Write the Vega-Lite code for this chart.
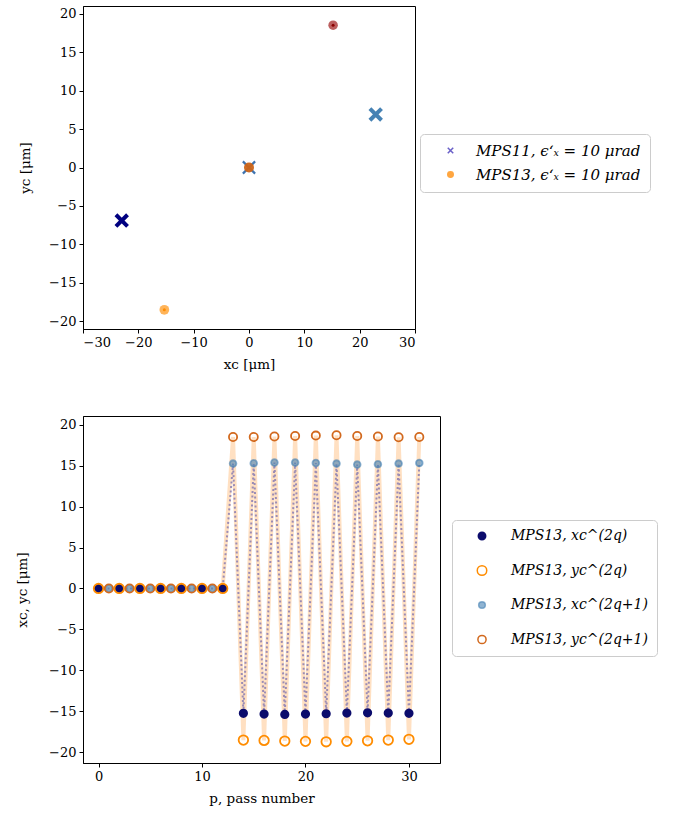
{
  "$schema": "https://vega.github.io/schema/vega-lite/v6.json",
  "padding": {"left": 15, "top": 5, "right": 5, "bottom": 5},
  "spacing": 44,
  "resolve": {
    "scale": {"fill": "independent", "stroke": "independent", "shape": "independent", "size": "independent", "color": "independent"},
    "legend": {"fill": "independent", "stroke": "independent", "shape": "independent", "size": "independent", "color": "independent"}
  },
  "datasets": {
    "top": [
      {"mps": "MPS11", "step": "start", "xc": 0, "yc": 0},
      {"mps": "MPS11", "step": "even", "xc": -23.0, "yc": -6.9},
      {"mps": "MPS11", "step": "odd", "xc": 22.9, "yc": 6.9},
      {"mps": "MPS13", "step": "start", "xc": 0, "yc": 0},
      {"mps": "MPS13", "step": "even", "xc": -15.3, "yc": -18.5},
      {"mps": "MPS13", "step": "odd", "xc": 15.2, "yc": 18.5}
    ],
    "passes": [
      {"p": 0, "series": "x_even", "coord": "x", "value": 0},
      {"p": 0, "series": "y_even", "coord": "y", "value": 0},
      {"p": 1, "series": "x_odd", "coord": "x", "value": 0},
      {"p": 1, "series": "y_odd", "coord": "y", "value": 0},
      {"p": 2, "series": "x_even", "coord": "x", "value": 0},
      {"p": 2, "series": "y_even", "coord": "y", "value": 0},
      {"p": 3, "series": "x_odd", "coord": "x", "value": 0},
      {"p": 3, "series": "y_odd", "coord": "y", "value": 0},
      {"p": 4, "series": "x_even", "coord": "x", "value": 0},
      {"p": 4, "series": "y_even", "coord": "y", "value": 0},
      {"p": 5, "series": "x_odd", "coord": "x", "value": 0},
      {"p": 5, "series": "y_odd", "coord": "y", "value": 0},
      {"p": 6, "series": "x_even", "coord": "x", "value": 0},
      {"p": 6, "series": "y_even", "coord": "y", "value": 0},
      {"p": 7, "series": "x_odd", "coord": "x", "value": 0},
      {"p": 7, "series": "y_odd", "coord": "y", "value": 0},
      {"p": 8, "series": "x_even", "coord": "x", "value": 0},
      {"p": 8, "series": "y_even", "coord": "y", "value": 0},
      {"p": 9, "series": "x_odd", "coord": "x", "value": 0},
      {"p": 9, "series": "y_odd", "coord": "y", "value": 0},
      {"p": 10, "series": "x_even", "coord": "x", "value": 0},
      {"p": 10, "series": "y_even", "coord": "y", "value": 0},
      {"p": 11, "series": "x_odd", "coord": "x", "value": 0},
      {"p": 11, "series": "y_odd", "coord": "y", "value": 0},
      {"p": 12, "series": "x_even", "coord": "x", "value": 0},
      {"p": 12, "series": "y_even", "coord": "y", "value": 0},
      {"p": 13, "series": "x_odd", "coord": "x", "value": 15.24},
      {"p": 13, "series": "y_odd", "coord": "y", "value": 18.49},
      {"p": 14, "series": "x_even", "coord": "x", "value": -15.24},
      {"p": 14, "series": "y_even", "coord": "y", "value": -18.5},
      {"p": 15, "series": "x_odd", "coord": "x", "value": 15.28},
      {"p": 15, "series": "y_odd", "coord": "y", "value": 18.49},
      {"p": 16, "series": "x_even", "coord": "x", "value": -15.33},
      {"p": 16, "series": "y_even", "coord": "y", "value": -18.54},
      {"p": 17, "series": "x_odd", "coord": "x", "value": 15.37},
      {"p": 17, "series": "y_odd", "coord": "y", "value": 18.54},
      {"p": 18, "series": "x_even", "coord": "x", "value": -15.37},
      {"p": 18, "series": "y_even", "coord": "y", "value": -18.62},
      {"p": 19, "series": "x_odd", "coord": "x", "value": 15.37},
      {"p": 19, "series": "y_odd", "coord": "y", "value": 18.61},
      {"p": 20, "series": "x_even", "coord": "x", "value": -15.33},
      {"p": 20, "series": "y_even", "coord": "y", "value": -18.66},
      {"p": 21, "series": "x_odd", "coord": "x", "value": 15.32},
      {"p": 21, "series": "y_odd", "coord": "y", "value": 18.66},
      {"p": 22, "series": "x_even", "coord": "x", "value": -15.29},
      {"p": 22, "series": "y_even", "coord": "y", "value": -18.71},
      {"p": 23, "series": "x_odd", "coord": "x", "value": 15.24},
      {"p": 23, "series": "y_odd", "coord": "y", "value": 18.7},
      {"p": 24, "series": "x_even", "coord": "x", "value": -15.21},
      {"p": 24, "series": "y_even", "coord": "y", "value": -18.66},
      {"p": 25, "series": "x_odd", "coord": "x", "value": 15.12},
      {"p": 25, "series": "y_odd", "coord": "y", "value": 18.61},
      {"p": 26, "series": "x_even", "coord": "x", "value": -15.17},
      {"p": 26, "series": "y_even", "coord": "y", "value": -18.59},
      {"p": 27, "series": "x_odd", "coord": "x", "value": 15.16},
      {"p": 27, "series": "y_odd", "coord": "y", "value": 18.54},
      {"p": 28, "series": "x_even", "coord": "x", "value": -15.21},
      {"p": 28, "series": "y_even", "coord": "y", "value": -18.5},
      {"p": 29, "series": "x_odd", "coord": "x", "value": 15.24},
      {"p": 29, "series": "y_odd", "coord": "y", "value": 18.45},
      {"p": 30, "series": "x_even", "coord": "x", "value": -15.24},
      {"p": 30, "series": "y_even", "coord": "y", "value": -18.41},
      {"p": 31, "series": "x_odd", "coord": "x", "value": 15.32},
      {"p": 31, "series": "y_odd", "coord": "y", "value": 18.49}
    ]
  },
  "vconcat": [
    {
      "width": 332,
      "height": 323,
      "data": {"name": "top"},
      "encoding": {
        "x": {"field": "xc", "type": "quantitative", "scale": {"domain": [-30, 30], "nice": false, "zero": false},
              "axis": {"title": "xc [μm]", "values": [-30, -20, -10, 0, 10, 20, 30], "titlePadding": 8}},
        "y": {"field": "yc", "type": "quantitative", "scale": {"domain": [-21, 21], "nice": false, "zero": false},
              "axis": {"title": "yc [μm]", "values": [-20, -15, -10, -5, 0, 5, 10, 15, 20], "titlePadding": 16}}
      },
      "layer": [
        {"transform": [{"filter": "datum.mps == 'MPS11' && datum.step == 'even'"}],
         "mark": {"type": "point", "shape": "M-1,-1L1,1M1,-1L-1,1", "filled": false, "color": "#000080", "strokeWidth": 4, "size": 135, "opacity": 1}},
        {"transform": [{"filter": "datum.mps == 'MPS11' && datum.step == 'odd'"}],
         "mark": {"type": "point", "shape": "M-1,-1L1,1M1,-1L-1,1", "filled": false, "color": "#4682b4", "strokeWidth": 4, "size": 135, "opacity": 1}},
        {"transform": [{"filter": "datum.mps == 'MPS11' && datum.step == 'start'"}],
         "mark": {"type": "point", "shape": "M-1,-1L1,1M1,-1L-1,1", "filled": false, "color": "#3f74b0", "strokeWidth": 2.2, "size": 150, "opacity": 1}},
        {"transform": [{"filter": "datum.mps == 'MPS13' && datum.step == 'start'"}],
         "mark": {"type": "point", "shape": "circle", "filled": true, "color": "#cc6418", "size": 100, "opacity": 0.95}},
        {"transform": [{"filter": "datum.mps == 'MPS13' && datum.step == 'even'"}],
         "mark": {"type": "point", "shape": "circle", "filled": true, "color": "#ff8c00", "size": 95, "opacity": 0.65}},
        {"transform": [{"filter": "datum.mps == 'MPS13' && datum.step == 'odd'"}],
         "mark": {"type": "point", "shape": "circle", "filled": true, "color": "#a52a2a", "size": 90, "opacity": 0.75}},
        {"transform": [{"filter": "datum.mps == 'MPS13' && datum.step == 'even'"}],
         "mark": {"type": "point", "shape": "circle", "filled": true, "color": "#ff8c00", "size": 9, "opacity": 1}},
        {"transform": [{"filter": "datum.mps == 'MPS13' && datum.step == 'odd'"}],
         "mark": {"type": "point", "shape": "circle", "filled": true, "color": "#8b0000", "size": 9, "opacity": 1}},
        {"mark": {"type": "point", "filled": true, "opacity": 0, "strokeWidth": 1.3},
         "encoding": {
           "fill": {"field": "mps", "type": "nominal",
                    "scale": {"domain": ["MPS11", "MPS13"], "range": ["transparent", "#ffa640"]},
                    "legend": {"title": null, "orient": "none", "legendX": 337, "legendY": 128, "symbolOpacity": 1, "symbolSize": 30, "symbolOffset": 14, "labelOffset": 18, "rowPadding": 8, "labelFontSize": 15,
                               "labelExpr": "datum.label == 'MPS11' ? 'MPS11, ϵ‘ₓ = 10 μrad' : 'MPS13, ϵ‘ₓ = 10 μrad'"}},
           "stroke": {"field": "mps", "type": "nominal",
                    "scale": {"domain": ["MPS11", "MPS13"], "range": ["#6a60c8", "#ffa640"]},
                    "legend": {"title": null, "orient": "none", "legendX": 337, "legendY": 128, "symbolOpacity": 1, "symbolSize": 30, "symbolOffset": 14, "labelOffset": 18, "rowPadding": 8, "labelFontSize": 15,
                               "labelExpr": "datum.label == 'MPS11' ? 'MPS11, ϵ‘ₓ = 10 μrad' : 'MPS13, ϵ‘ₓ = 10 μrad'"}},
           "shape": {"field": "mps", "type": "nominal",
                    "scale": {"domain": ["MPS11", "MPS13"], "range": ["M-1,-1L1,1M1,-1L-1,1", "circle"]},
                    "legend": {"title": null, "orient": "none", "legendX": 337, "legendY": 128, "symbolOpacity": 1, "symbolSize": 30, "symbolOffset": 14, "labelOffset": 18, "rowPadding": 8, "labelFontSize": 15,
                               "labelExpr": "datum.label == 'MPS11' ? 'MPS11, ϵ‘ₓ = 10 μrad' : 'MPS13, ϵ‘ₓ = 10 μrad'"}}
         }}
      ]
    },
    {
      "width": 357,
      "height": 347,
      "data": {"name": "passes"},
      "encoding": {
        "x": {"field": "p", "type": "quantitative", "scale": {"domain": [-1.5, 33], "nice": false, "zero": false},
              "axis": {"title": "p, pass number", "values": [0, 10, 20, 30], "titlePadding": 8}},
        "y": {"field": "value", "type": "quantitative", "scale": {"domain": [-21.3, 21.05], "nice": false, "zero": false},
              "axis": {"title": "xc, yc [μm]", "values": [-20, -15, -10, -5, 0, 5, 10, 15, 20], "titlePadding": 19}}
      },
      "layer": [
        {"transform": [{"filter": "datum.coord == 'y'"}],
         "mark": {"type": "line", "color": "#ffd6ae", "strokeWidth": 4, "opacity": 0.75}},
        {"transform": [{"filter": "datum.coord == 'x'"}],
         "mark": {"type": "line", "color": "#7a70b0", "strokeWidth": 2, "strokeDash": [2, 2.5], "opacity": 0.75}},
        {"mark": {"type": "point", "filled": true, "strokeWidth": 1.8, "opacity": 1},
         "encoding": {
           "fill": {"field": "series", "type": "nominal",
                    "scale": {"domain": ["x_even", "y_even", "x_odd", "y_odd"], "range": ["#0c0c6c", "transparent", "rgba(70,130,180,0.6)", "transparent"]},
                    "legend": {"title": null, "orient": "none", "legendX": 369, "legendY": 104, "symbolOpacity": 1, "symbolOffset": 14, "labelOffset": 22, "rowPadding": 19.5,
                               "labelExpr": "datum.label == 'x_even' ? 'MPS13, xc^(2q)' : datum.label == 'y_even' ? 'MPS13, yc^(2q)' : datum.label == 'x_odd' ? 'MPS13, xc^(2q+1)' : 'MPS13, yc^(2q+1)'"}},
           "stroke": {"field": "series", "type": "nominal",
                    "scale": {"domain": ["x_even", "y_even", "x_odd", "y_odd"], "range": ["#0c0c6c", "#ff8c00", "rgba(70,130,180,0.6)", "#d2691e"]},
                    "legend": {"title": null, "orient": "none", "legendX": 369, "legendY": 104, "symbolOpacity": 1, "symbolOffset": 14, "labelOffset": 22, "rowPadding": 19.5,
                               "labelExpr": "datum.label == 'x_even' ? 'MPS13, xc^(2q)' : datum.label == 'y_even' ? 'MPS13, yc^(2q)' : datum.label == 'x_odd' ? 'MPS13, xc^(2q+1)' : 'MPS13, yc^(2q+1)'"}},
           "size": {"field": "series", "type": "nominal",
                    "scale": {"type": "ordinal", "domain": ["x_even", "y_even", "x_odd", "y_odd"], "range": [55, 90, 45, 67]},
                    "legend": {"title": null, "orient": "none", "legendX": 369, "legendY": 104, "symbolOpacity": 1, "symbolOffset": 14, "labelOffset": 22, "rowPadding": 19.5,
                               "labelExpr": "datum.label == 'x_even' ? 'MPS13, xc^(2q)' : datum.label == 'y_even' ? 'MPS13, yc^(2q)' : datum.label == 'x_odd' ? 'MPS13, xc^(2q+1)' : 'MPS13, yc^(2q+1)'"}}
         }}
      ]
    }
  ],
  "config": {
    "font": "DejaVu Serif",
    "view": {"stroke": "black", "strokeWidth": 1},
    "axis": {"grid": false, "domainColor": "black", "tickColor": "black", "labelColor": "black", "titleColor": "black",
             "labelFont": "DejaVu Serif", "titleFont": "DejaVu Serif", "labelFontSize": 13, "titleFontSize": 13.5,
             "titleFontWeight": "normal", "tickSize": 4, "labelPadding": 3},
    "legend": {"labelFont": "DejaVu Serif", "labelFontSize": 14, "labelFontStyle": "italic", "labelColor": "black",
               "strokeColor": "#cccccc", "fillColor": "white", "cornerRadius": 4, "padding": 9, "labelLimit": 300}
  }
}
